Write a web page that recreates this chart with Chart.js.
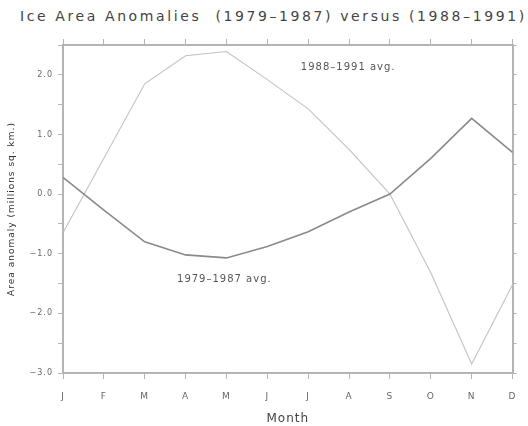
<!DOCTYPE html>
<html>
<head>
<meta charset="utf-8">
<script src="https://cdn.jsdelivr.net/npm/chart.js@4.4.0/dist/chart.umd.min.js"></script>
<style>
  body { margin: 0; background: #fff; width: 528px; height: 426px; position: relative; overflow: hidden; }
  #title { position: absolute; left: 20px; top: 7px; font: 14px "DejaVu Sans", sans-serif; line-height: 18px; letter-spacing: 2.6px; color: #444; white-space: pre; }
  #wrap { position: absolute; left: 0; top: 33px; }
</style>
</head>
<body>
<div id="title">Ice Area Anomalies  (1979–1987) versus (1988–1991)</div>
<div id="wrap"><canvas id="grafico" width="528" height="393"></canvas></div>
<script>
// meses
const months = ['J', 'F', 'M', 'A', 'M', 'J', 'J', 'A', 'S', 'O', 'N', 'D'];

// anomalias (millones km2)
const avg7987 = [0.28, -0.27, -0.8, -1.02, -1.07, -0.88, -0.63, -0.3, 0.0, 0.6, 1.27, 0.7];
const avg8891 = [-0.65, 0.6, 1.85, 2.32, 2.39, 1.92, 1.43, 0.75, 0.0, -1.32, -2.85, -1.52];

// etiquetas dentro del grafico
const noteText = ['1988–1991 avg.', '1979–1987 avg.'];
const noteX = [5.82, 2.79];
const noteY = [2.13, -1.43];

const yMin = -3.0;
const yMax = 2.5;

const axisColor = '#b4b4b4';
const textColor = '#666';
const font = "'DejaVu Sans', sans-serif";

const spacing = {
    id: 'spacing',
    beforeDraw(chart) { chart.ctx.letterSpacing = '1px'; }
};

const notes = {
    id: 'notes',
    afterDatasetsDraw(chart) {
        const ctx = chart.ctx;
        ctx.save();
        ctx.font = '10px ' + font;
        ctx.letterSpacing = '1px';
        ctx.fillStyle = '#555';
        ctx.textAlign = 'left';
        ctx.textBaseline = 'middle';
        for (let i = 0; i < noteText.length; i++) {
            ctx.fillText(noteText[i], chart.scales.x.getPixelForValue(noteX[i]), chart.scales.y.getPixelForValue(noteY[i]));
        }
        ctx.restore();
    }
};

let lineal = document.getElementById('grafico').getContext('2d');

var chart = new Chart(lineal, {
    type: 'line',
    data: {
        labels: months,
        datasets: [
            {
                label: '1979-1987 avg.',
                data: avg7987,
                borderColor: '#8a8a8a',
                borderWidth: 1.6,
                pointRadius: 0,
                tension: 0,
                xAxisID: 'x',
                yAxisID: 'y'
            },
            {
                label: '1988-1991 avg.',
                data: avg8891,
                borderColor: '#c2c2c2',
                borderWidth: 1.1,
                pointRadius: 0,
                tension: 0,
                xAxisID: 'x',
                yAxisID: 'y'
            }
        ]
    },
    options: {
        responsive: false,
        animation: false,
        layout: { padding: 0 },
        plugins: {
            legend: { display: false },
            tooltip: { enabled: false }
        },
        scales: {
            x: {
                type: 'category',
                position: 'bottom',
                offset: false,
                grid: { drawOnChartArea: false, tickLength: 6, color: axisColor },
                border: { color: axisColor, width: 2 },
                ticks: { color: textColor, font: { family: font, size: 9 }, padding: 12, autoSkip: false, maxRotation: 0 },
                title: { display: true, text: 'Month', color: '#444', font: { family: font, size: 12 }, padding: { top: 0, bottom: 0 } },
                afterFit(s) { s.height = 53; }
            },
            xTop: {
                type: 'category',
                position: 'top',
                labels: months,
                offset: false,
                grid: { drawOnChartArea: false, tickLength: 6, color: axisColor },
                border: { color: axisColor, width: 2 },
                ticks: { display: false },
                afterFit(s) { s.height = 12; }
            },
            y: {
                position: 'left',
                min: yMin,
                max: yMax,
                grid: { drawOnChartArea: false, tickLength: 5, color: axisColor },
                border: { color: axisColor, width: 2 },
                ticks: {
                    stepSize: 0.5,
                    color: textColor,
                    font: { family: font, size: 8 },
                    padding: 5,
                    callback: (v) => (Math.abs(v % 1) < 1e-9 ? v.toFixed(1).replace('-', '−') : '')
                },
                title: { display: true, text: 'Area anomaly (millions sq. km.)', color: '#333', font: { family: font, size: 9 }, padding: { top: 6, bottom: 0 } },
                afterFit(s) { s.width = 63; }
            },
            yRight: {
                position: 'right',
                min: yMin,
                max: yMax,
                grid: { drawOnChartArea: false, tickLength: 4, color: axisColor },
                border: { color: axisColor, width: 2 },
                ticks: { stepSize: 0.5, display: false },
                afterFit(s) { s.width = 11; }
            }
        }
    },
    plugins: [spacing, notes]
});
</script>
</body>
</html>
